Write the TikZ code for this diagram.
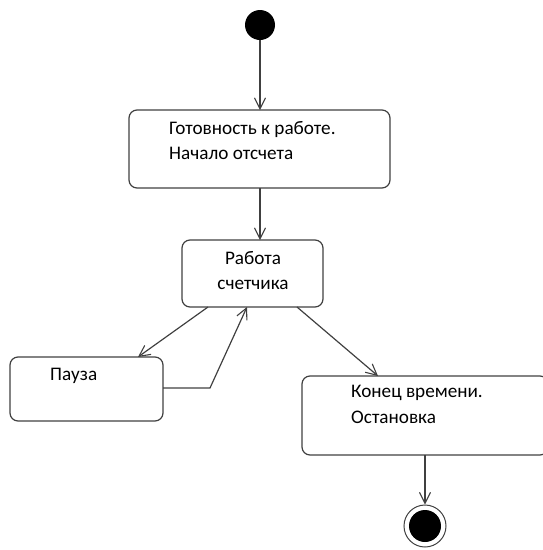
\documentclass[tikz,border=0pt]{standalone}
\usepackage{fontspec}
\setmainfont{Carlito}
\usetikzlibrary{arrows.meta}
\begin{document}
\begin{tikzpicture}[x=1pt,y=-1pt,
  line/.style={draw=black!75,line width=1.2pt},
  arr/.style={line,-{Straight Barb[length=11pt,width=11pt,line width=1.1pt]}},
  state/.style={line,rounded corners=8pt},
  lbl/.style={font=\fontsize{19.2}{25.5}\selectfont,align=left,anchor=north west,inner sep=0pt}]
\useasboundingbox (0,0) rectangle (542,550);
% initial
\node[circle,fill=black,minimum size=30pt,inner sep=0pt] (init) at (260,25) {};
% states
\draw[state] (129,110) rectangle (390,188);
\coordinate (s1top) at (260,110);
\coordinate (s1bot) at (260,188);
\node[lbl] (t1) at (169,121) {Готовность к работе.\\Начало отсчета};
\draw[state] (182,240) rectangle (323,307);
\coordinate (s2top) at (260,240);
\node[lbl,align=center,anchor=north] (t2) at (253,251) {Работа\\счетчика};
\draw[state] (10,357) rectangle (163,421);
\node[lbl] (t3) at (50,368) {Пауза};
\draw[state] (302,376) rectangle (548,455);
\node[lbl] (t4) at (351,385) {Конец времени.\\Остановка};
% final
\node[circle,draw=black!75,line width=1pt,minimum size=42pt,inner sep=0pt] (fin) at (425,526) {};
\node[circle,fill=black,minimum size=32pt,inner sep=0pt] (finin) at (fin) {};
% connectors
\coordinate (a1) at (208,307);
\coordinate (a2) at (138,357);
\coordinate (p1) at (163,388);
\coordinate (p2) at (210,388);
\coordinate (a3) at (247,307);
\coordinate (b1) at (297,307);
\coordinate (b2) at (378,376);
\coordinate (c1) at (425,455);
\draw[arr] (init) -- (s1top);
\draw[arr] (s1bot) -- (s2top);
\draw[arr] (a1) -- (a2);
\draw[arr] (p1) -- (p2) -- (a3);
\draw[arr] (b1) -- (b2);
\draw[arr] (c1) -- (fin.north);
\end{tikzpicture}
\end{document}
